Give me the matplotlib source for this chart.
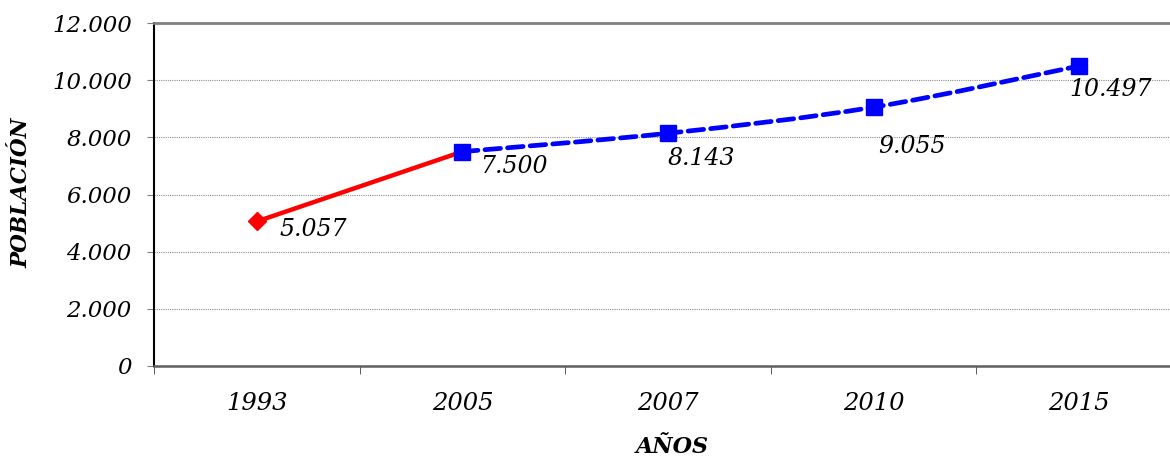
import matplotlib
matplotlib.use("Agg")
import matplotlib.pyplot as plt
from matplotlib.path import Path
from matplotlib.patches import PathPatch
from matplotlib.ticker import FuncFormatter, FixedLocator

# --- data ---
years = ["1993", "2005", "2007", "2010", "2015"]
historic = [5057, 7500]          # 1993, 2005 (solid red)
projected = [7500, 8143, 9055, 10497]  # 2005..2015 (dashed blue, smoothed)
labels = ["5.057", "7.500", "8.143", "9.055", "10.497"]
label_values = [5057, 7500, 8143, 9055, 10497]

# label offsets in points (placement only)
label_offsets = [(16, -6), (13, -11), (0, -18), (3, -28), (-7, -17)]

FONT = "DejaVu Serif"


def smooth_path(xs, ys):
    # Excel-style smoothed line: cubic Bezier with Catmull-Rom control points
    pts = list(zip(xs, ys))
    verts = [pts[0]]
    codes = [Path.MOVETO]
    for i in range(len(pts) - 1):
        p0 = pts[i - 1] if i > 0 else pts[i]
        p1 = pts[i]
        p2 = pts[i + 1]
        p3 = pts[i + 2] if i + 2 < len(pts) else pts[i + 1]
        c1 = (p1[0] + (p2[0] - p0[0]) / 6, p1[1] + (p2[1] - p0[1]) / 6)
        c2 = (p2[0] - (p3[0] - p1[0]) / 6, p2[1] - (p3[1] - p1[1]) / 6)
        verts += [c1, c2, p2]
        codes += [Path.CURVE4] * 3
    return Path(verts, codes)


fig = plt.figure(figsize=(11.7, 4.59), dpi=100)
ax = fig.add_axes([154 / 1170, 1 - 366 / 459, (1182 - 154) / 1170, (366 - 23) / 459])

x_all = list(range(len(years)))
x_hist = x_all[:2]
x_proj = x_all[1:]

# red solid segment
ax.plot(x_hist, historic, color="#ff0000", lw=3.2, solid_capstyle="round", zorder=3)
ax.plot(x_hist[:1], historic[:1], marker="D", color="#ff0000", ms=9, ls="none", zorder=4)

# blue dashed smoothed segment
patch = PathPatch(smooth_path(x_proj, projected), fill=False, edgecolor="#0000ff",
                  lw=3.4, ls=(0, (3.3, 1.5)), capstyle="round", zorder=3)
ax.add_patch(patch)
ax.plot(x_proj, projected, marker="s", color="#0000ff", ms=11.5, ls="none", zorder=4)

for xi, v, txt, off in zip(x_all, label_values, labels, label_offsets):
    ax.annotate(txt, (xi, v), xytext=off, textcoords="offset points",
                ha="left", va="center", fontsize=17, style="italic",
                family=FONT, color="black", zorder=5)

ax.set_xlim(-0.5, len(years) - 0.5)
ax.set_ylim(0, 12000)

ax.set_yticks(range(0, 12001, 2000))
ax.yaxis.set_major_formatter(FuncFormatter(lambda v, p: f"{int(v):,}".replace(",", ".")))
ax.set_xticks(x_all)
ax.set_xticklabels(years)
ax.xaxis.set_minor_locator(FixedLocator([i - 0.5 for i in range(len(years) + 1)]))

ax.tick_params(axis="x", which="major", length=0, pad=19)
ax.tick_params(axis="x", which="minor", length=6, color="#404040", direction="out")
ax.tick_params(axis="y", which="major", length=5, color="#808080", pad=11)
for lab in ax.get_xticklabels():
    lab.set_fontfamily(FONT)
    lab.set_fontstyle("italic")
    lab.set_fontsize(17.5)
for lab in ax.get_yticklabels():
    lab.set_fontfamily(FONT)
    lab.set_fontstyle("italic")
    lab.set_fontsize(16.5)

ax.grid(axis="y", color="#8c8c8c", lw=0.8, ls=(0, (1, 1)))
ax.set_axisbelow(True)

ax.spines["left"].set_color("black")
ax.spines["left"].set_linewidth(1.5)
ax.spines["bottom"].set_color("#606060")
ax.spines["bottom"].set_linewidth(1.8)
ax.spines["top"].set_color("#808080")
ax.spines["top"].set_linewidth(2)
ax.spines["right"].set_visible(False)

fig.text(22 / 1170, 1 - 193 / 459, "POBLACIÓN", rotation=90, ha="center", va="center",
         fontsize=15.5, fontweight="bold", style="italic", family=FONT)
fig.text(672 / 1170, 1 - 447 / 459, "AÑOS", ha="center", va="center",
         fontsize=16, fontweight="bold", style="italic", family=FONT)

fig.savefig("out.png", dpi=100)
